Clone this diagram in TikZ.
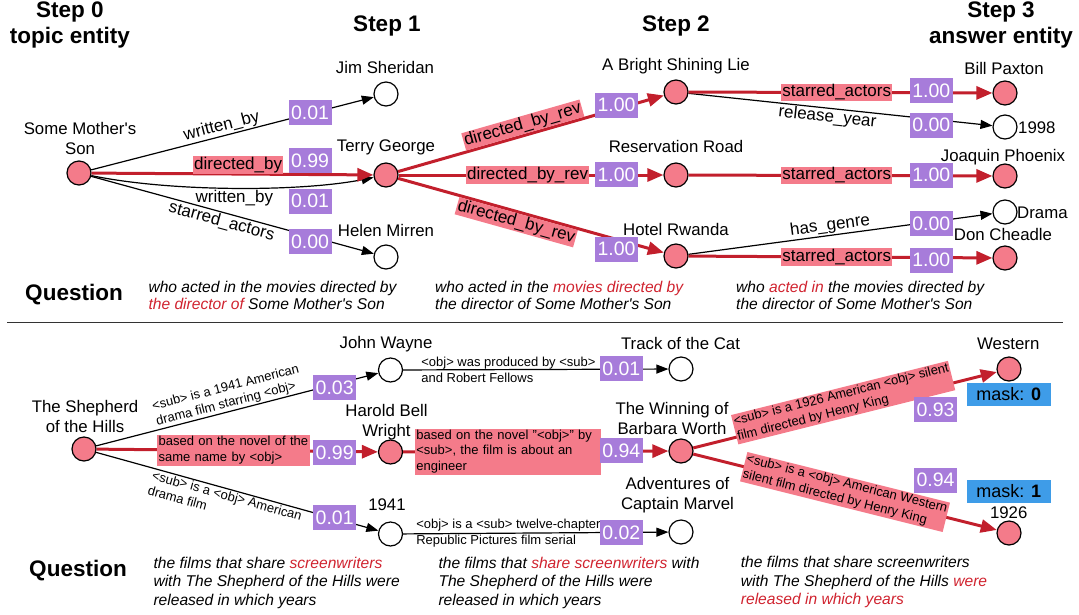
\documentclass[tikz,border=0pt]{standalone}
\usepackage{fontspec}
\setmainfont{Liberation Sans}
\usetikzlibrary{arrows.meta}
\definecolor{EntityPink}{HTML}{F47B8A}
\definecolor{PathRed}{HTML}{C21F2C}
\definecolor{ScorePurple}{HTML}{A77CDA}
\definecolor{MaskBlue}{HTML}{3E9CE8}
\definecolor{QuestionRed}{HTML}{D0232F}

\begin{document}
\begin{tikzpicture}[x=1pt, y=-1pt,
    ent/.style={circle, draw, line width=1.2pt, minimum size=24pt, inner sep=0pt},
    hit/.style={ent, fill=EntityPink},
    miss/.style={ent, fill=white},
    entlabel/.style={font=\fontsize{16.8}{20}\selectfont, inner sep=0pt, align=center},
    head/.style={font=\fontsize{22.5}{26}\selectfont\bfseries, inner sep=0pt, align=center},
    rel/.style={font=\fontsize{17}{20}\selectfont, inner sep=1pt, text=black},
    relbox/.style={rel, fill=EntityPink},
    small/.style={font=\fontsize{13}{15.7}\selectfont, inner sep=1.2pt, align=left, text=black},
    smallbox/.style={small, fill=EntityPink},
    score/.style={fill=ScorePurple, text=white, font=\fontsize{19.5}{22}\selectfont, minimum width=43pt, minimum height=25pt, inner sep=0pt},
    masktag/.style={fill=MaskBlue, font=\fontsize{18}{20}\selectfont, minimum width=84pt, minimum height=23pt, inner sep=0pt},
    question/.style={font=\fontsize{15.6}{16.7}\selectfont\itshape, align=left, anchor=west, inner sep=0pt},
    arr/.style={-{Triangle[length=12pt, width=9pt]}, line width=1.2pt},
    redarr/.style={-{Triangle[length=16pt, width=13pt]}, line width=3pt, PathRed},
  ]
  \useasboundingbox (0,0) rectangle (1079,614);

  \node[head] (step0) at (70,25) {Step 0\\topic entity};
  \node[head] (step1) at (387,26) {Step 1};
  \node[head] (step2) at (676,26) {Step 2};
  \node[head] (step3) at (1001,25) {Step 3\\answer entity};

  \node[hit] (sms) at (79,173) {};
  \node[miss] (jim) at (386,94) {};
  \node[hit] (terry) at (386,175) {};
  \node[miss] (helen) at (386,257) {};
  \node[hit] (bright) at (676,92) {};
  \node[hit] (reserv) at (676,175) {};
  \node[hit] (hotel) at (676,256) {};
  \node[hit] (bill) at (1005,93) {};
  \node[miss] (y1998) at (1005,127) {};
  \node[hit] (joaquin) at (1005,176) {};
  \node[miss] (drama) at (1005,212) {};
  \node[hit] (don) at (1005,258) {};

  \node[entlabel] (sms-t) at (80,138) {Some Mother\textquotesingle s\\Son};
  \node[entlabel] (jim-t) at (385,67) {Jim Sheridan};
  \node[entlabel] (terry-t) at (386,147) {Terry George};
  \node[entlabel] (helen-t) at (386,230) {Helen Mirren};
  \node[entlabel] (bright-t) at (676,66) {A Bright Shining Lie};
  \node[entlabel] (reserv-t) at (676,146) {Reservation Road};
  \node[entlabel] (hotel-t) at (676,229) {Hotel Rwanda};
  \node[entlabel] (bill-t) at (1004,68) {Bill Paxton};
  \node[entlabel, anchor=west] (y1998-t) at (1018,128) {1998};
  \node[entlabel] (joaquin-t) at (1003,157) {Joaquin Phoenix};
  \node[entlabel, anchor=west] (drama-t) at (1017,213) {Drama};
  \node[entlabel] (don-t) at (1003,234) {Don Cheadle};

  \draw[arr] (sms) -- node[rel, sloped, above, pos=0.47] (e1) {written\_by} (jim);
  \draw[arr] (sms) .. controls (170,192) and (300,192) .. node[rel, below, pos=0.5] (e3) {written\_by} (terry);
  \draw[arr] (sms) -- node[rel, sloped, below, pos=0.47] (e4) {starred\_actors} (helen);
  \draw[arr] (bright) -- node[rel, sloped, below, pos=0.46] (e9) {release\_year} (y1998);
  \draw[arr] (hotel) -- node[rel, sloped, above, pos=0.47] (e11) {has\_genre} (drama);
  \draw[redarr] (sms) -- node[relbox, above=-1.5pt, pos=0.52] (e2) {directed\_by} (terry);
  \draw[redarr] (terry) -- node[relbox, sloped, above=0pt, pos=0.48] (e5) {directed\_by\_rev} (bright);
  \draw[redarr] (terry) -- node[relbox, pos=0.487] (e6) {directed\_by\_rev} (reserv);
  \draw[redarr] (terry) -- node[relbox, sloped, below=0pt, pos=0.455] (e7) {directed\_by\_rev} (hotel);
  \draw[redarr] (bright) -- node[relbox, pos=0.4875] (e8) {starred\_actors} (bill);
  \draw[redarr] (reserv) -- node[relbox, pos=0.4875] (e10) {starred\_actors} (joaquin);
  \draw[redarr] (hotel) -- node[relbox, pos=0.4875] (e12) {starred\_actors} (don);

  \node[score] (s1) at (310,112.5) {0.01};
  \node[score] (s2) at (310,160.5) {0.99};
  \node[score] (s3) at (310,201) {0.01};
  \node[score] (s4) at (310,241.5) {0.00};
  \node[score] (s5) at (616.5,105) {1.00};
  \node[score] (s6) at (616.5,174.7) {1.00};
  \node[score] (s7) at (616.5,249) {1.00};
  \node[score] (s8) at (931.3,90.7) {1.00};
  \node[score] (s9) at (931.3,125) {0.00};
  \node[score] (s10) at (931.3,175) {1.00};
  \node[score] (s11) at (931.3,223.8) {0.00};
  \node[score] (s12) at (931.3,260) {1.00};

  \node[head] (q-top) at (74,295) {Question};
  \node[question] (q1) at (148.3,295.7) {who acted in the movies directed by\\\textcolor{QuestionRed}{the director of} Some Mother\textquotesingle s Son};
  \node[question] (q2) at (435,295.7) {who acted in the \textcolor{QuestionRed}{movies directed by}\\the director of Some Mother\textquotesingle s Son};
  \node[question] (q3) at (736,295.2) {who \textcolor{QuestionRed}{acted in} the movies directed by\\the director of Some Mother\textquotesingle s Son};

  \coordinate (sep-l) at (7,322.7);
  \coordinate (sep-r) at (1063,322.7);
  \draw[line width=1.3pt, black!80] (sep-l) -- (sep-r);

  \node[hit] (shep) at (84,449) {};
  \node[miss] (wayne) at (390.5,370) {};
  \node[hit] (harold) at (390.5,452) {};
  \node[miss] (n1941) at (390.5,534) {};
  \node[miss] (track) at (681,369) {};
  \node[hit] (winning) at (681,451) {};
  \node[miss] (marvel) at (681,532) {};
  \node[hit] (western) at (1009,369) {};
  \node[hit] (n1926) at (1009,533) {};

  \node[entlabel] (shep-t) at (85,416) {The Shepherd\\of the Hills};
  \node[entlabel] (wayne-t) at (386,344) {John Wayne};
  \node[entlabel] (harold-t) at (386.5,421.7) {Harold Bell\\Wright};
  \node[entlabel] (n1941-t) at (387,505) {1941};
  \node[entlabel] (track-t) at (680.5,343.3) {Track of the Cat};
  \node[entlabel] (winning-t) at (672,418.8) {The Winning of\\Barbara Worth};
  \node[entlabel] (marvel-t) at (677.5,495) {Adventures of\\Captain Marvel};
  \node[entlabel] (western-t) at (1008.3,344) {Western};
  \node[entlabel] (n1926-t) at (1008.7,512.3) {1926};

  \draw[arr] (shep) -- node[small, sloped, above=0pt, pos=0.48] (b1-l) {<sub> is a 1941 American\\drama film starring <obj>} (wayne);
  \draw[arr] (shep) -- node[small, sloped, below=0pt, pos=0.47] (b3-l) {<sub> is a <obj> American\\drama film} (n1941);
  \draw[arr] (wayne) -- node[small, pos=0.397] (b4-l) {<obj> was produced by <sub>\\and Robert Fellows} (track);
  \draw[arr] (n1941) -- node[small, pos=0.397] (b6-l) {<obj> is a <sub> twelve-chapter\\Republic Pictures film serial} (marvel);
  \draw[redarr] (shep) -- node[smallbox, font=\fontsize{13}{16.2}\selectfont, text width=150pt, pos=0.487] (b2-l) {based on the novel of the\\same name by <obj>} (harold);
  \draw[redarr] (harold) -- node[smallbox, text width=183pt, pos=0.395] (b5-l) {based on the novel "<obj>" by\\<sub>, the film is about an\\engineer} (winning);
  \draw[redarr] (winning) -- node[smallbox, sloped, above=-9pt, pos=0.5] (b7-l) {<sub> is a 1926 American <obj> silent\\film directed by Henry King} (western);
  \draw[redarr] (winning) -- node[smallbox, sloped, pos=0.5] (b8-l) {<sub> is a <obj> American Western\\silent film directed by Henry King} (n1926);

  \node[score] (b1) at (334.7,387.5) {0.03};
  \node[score] (b2) at (334.7,452.5) {0.99};
  \node[score] (b3) at (334.7,517.5) {0.01};
  \node[score] (b4) at (621.3,368.8) {0.01};
  \node[score] (b5) at (621.3,450.8) {0.94};
  \node[score] (b6) at (621.3,532.5) {0.02};
  \node[score] (b7) at (935.5,409.7) {0.93};
  \node[score] (b8) at (935.5,480) {0.94};
  \node[masktag] (mask0) at (1008.7,394.3) {mask: \textbf{0}};
  \node[masktag] (mask1) at (1008.7,491.3) {mask: \textbf{1}};

  \node[head] (q-bot) at (78,571) {Question};
  \node[question, font=\fontsize{15.6}{18.3}\selectfont\itshape] (q4) at (153.3,582.7) {the films that share \textcolor{QuestionRed}{screenwriters}\\with The Shepherd of the Hills were\\released in which years};
  \node[question, font=\fontsize{15.6}{18.3}\selectfont\itshape] (q5) at (438.3,582.7) {the films that \textcolor{QuestionRed}{share screenwriters} with\\The Shepherd of the Hills were\\released in which years};
  \node[question, font=\fontsize{15.6}{18.3}\selectfont\itshape] (q6) at (740.7,582.2) {the films that share screenwriters\\with The Shepherd of the Hills \textcolor{QuestionRed}{were}\\\textcolor{QuestionRed}{released in which years}};
\end{tikzpicture}
\end{document}
